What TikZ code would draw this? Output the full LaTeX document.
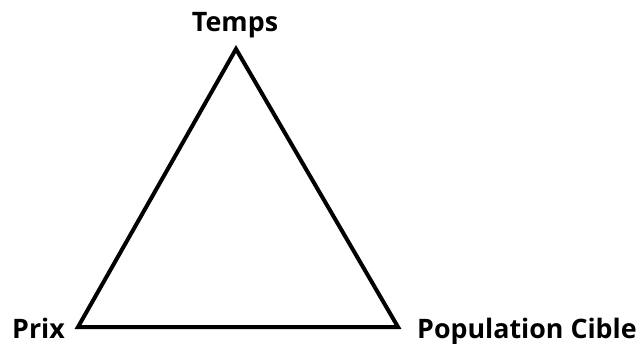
\documentclass[tikz,border=0pt]{standalone}
\usepackage{fontspec}
\setmainfont{Open Sans}
\begin{document}
\begin{tikzpicture}[x=1pt,y=1pt,
  lbl/.style={inner sep=0pt,font=\bfseries\fontsize{26.8}{30}\selectfont},
  edge/.style={line width=4pt,line join=miter}]
\useasboundingbox (0,0) rectangle (639,343);
\coordinate (T) at (236,294);
\coordinate (L) at (78,16);
\coordinate (R) at (398,16);
\draw[edge] (T) -- (L) -- (R) -- cycle;
\node[lbl,anchor=base] (temps) at (235,311) {Temps};
\node[lbl,anchor=base west] (prix) at (12,5) {Prix};
\node[lbl,anchor=base west] (pop) at (417,5) {Population Cible};
\end{tikzpicture}
\end{document}
